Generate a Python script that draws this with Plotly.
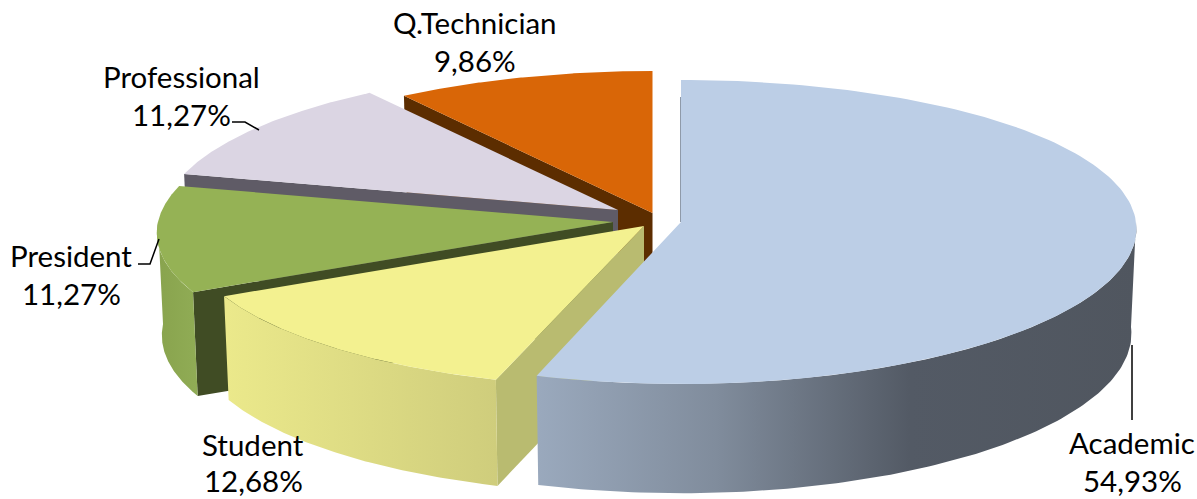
import numpy as np
import plotly.graph_objects as go

# --- data ---
categories = ["Academic", "Student", "President", "Professional", "Q.Technician"]
values = [54.93, 12.68, 11.27, 11.27, 9.86]

# --- styles / layout ---
apex = {"Academic": (681, 222), "Student": (644, 226), "President": (613, 222),
        "Professional": (618, 210), "Q.Technician": (652.5, 213)}
top_color = {"Academic": "#bccee6", "Student": "#f3f190", "President": "#95b255",
             "Professional": "#dbd5e3", "Q.Technician": "#d96607"}
face_color = {"Academic": None, "Student": "#b9bb70", "President": "#404c24",
              "Professional": "#5f5b66", "Q.Technician": "#5c2d00"}
wall_scale = {
    "Academic": (537, 1138, [[0, "#9aa9bd"], [0.3, "#808c9c"], [0.62, "#535a65"], [1, "#50565f"]]),
    "Student": (225, 497, [[0, "#ebe98b"], [1, "#cfcd7c"]]),
    "President": (160, 197, [[0, "#89a44e"], [1, "#90ac55"]]),
}
rx_slope = {"Academic": 20, "Student": 33, "President": 33, "Professional": 33, "Q.Technician": 33}
label_pos = {"Academic": (1132, 442), "Student": (253, 444), "President": (71, 255),
             "Professional": (181, 76), "Q.Technician": (475, 22)}
line_gap = {"Academic": 38, "Student": 36, "President": 38, "Professional": 38, "Q.Technician": 38}
leaders = [([1132, 1132], [345, 420]),
           ([138, 150, 159], [264, 264, 239]),
           ([232, 245, 259], [122, 122, 130])]
FONT = dict(family="Lato, Carlito, sans-serif", size=29.5, color="#000000")


def project(name, t, depth=0.0):
    """Perspective-flattened disc position for clockwise angle t (radians from 12 o'clock)."""
    ax, ay = apex[name]
    rx = 455 - rx_slope[name] * np.cos(t)
    ry = 152 - 10 * np.cos(t)
    height = (105 if name == "Academic" else 102) - 6 * np.cos(t)
    shrink = 1 - 0.011 * depth
    return ax + rx * shrink * np.sin(t), ay - ry * shrink * np.cos(t) + depth * height


def polygon(xs, ys, color=None, gradient=None):
    kw = dict(x=xs, y=ys, mode="lines", fill="toself", line=dict(width=0),
              hoverinfo="skip", showlegend=False)
    if gradient:
        kw["fillgradient"] = dict(type="horizontal", start=gradient[0], stop=gradient[1],
                                  colorscale=gradient[2])
    else:
        kw["fillcolor"] = color
    return go.Scatter(**kw)


fig = go.Figure()
total = sum(values)
edges = np.cumsum([0] + values) / total * 2 * np.pi
span = {n: (edges[i], edges[i + 1]) for i, n in enumerate(categories)}
draw_order = ["Q.Technician", "Professional", "President", "Student", "Academic"]

for name in draw_order:
    t0, t1 = span[name]
    ax, ay = apex[name]
    # cut face at the start angle
    if face_color[name]:
        x_out, y_out = project(name, t0)
        x_bot, y_bot = project(name, t0, 1.0)
        h = float(y_bot - y_out)
        fig.add_trace(polygon([ax, float(x_out), float(x_bot), ax], [ay, float(y_out), float(y_bot), ay + h],
                              color=face_color[name]))
    # outer wall, front half only
    a, b = max(t0, np.pi / 2), min(t1, 3 * np.pi / 2)
    if b > a and name in wall_scale:
        ts = np.linspace(a, b, 120)
        xt, yt = project(name, ts)
        xb, yb = project(name, ts[::-1], 1.0)
        fig.add_trace(polygon(np.r_[xt, xb].tolist(), np.r_[yt, yb].tolist(), gradient=wall_scale[name]))
    # top
    ts = np.linspace(t0, t1, 160)
    xt, yt = project(name, ts)
    fig.add_trace(polygon(np.r_[ax, xt, ax].tolist(), np.r_[ay, yt, ay].tolist(), color=top_color[name]))

# thin edge of the Academic slice's start face
ax, ay = apex["Academic"]
fig.add_trace(go.Scatter(x=[ax - 0.5, ax - 0.5], y=[ay - 125, ay], mode="lines",
                         line=dict(color="#8f9aa9", width=1), hoverinfo="skip", showlegend=False))

for xs, ys in leaders:
    fig.add_trace(go.Scatter(x=xs, y=ys, mode="lines", line=dict(color="#000000", width=1.5),
                             hoverinfo="skip", showlegend=False))

for name, value in zip(categories, values):
    x, y = label_pos[name]
    pct = f"{value:.2f}".replace(".", ",") + "%"
    fig.add_annotation(x=x, y=y, text=name, showarrow=False, font=FONT)
    fig.add_annotation(x=x, y=y + line_gap[name], text=pct, showarrow=False, font=FONT)

fig.update_layout(
    width=1197, height=499, margin=dict(l=0, r=0, t=0, b=0),
    paper_bgcolor="#ffffff", plot_bgcolor="#ffffff", showlegend=False,
    xaxis=dict(range=[0, 1197], visible=False, fixedrange=True),
    yaxis=dict(range=[499, 0], visible=False, fixedrange=True),
)
fig.write_html("out.html", config=dict(displayModeBar=False),
               post_script="document.body.style.margin='0';document.body.style.overflow='hidden';")
